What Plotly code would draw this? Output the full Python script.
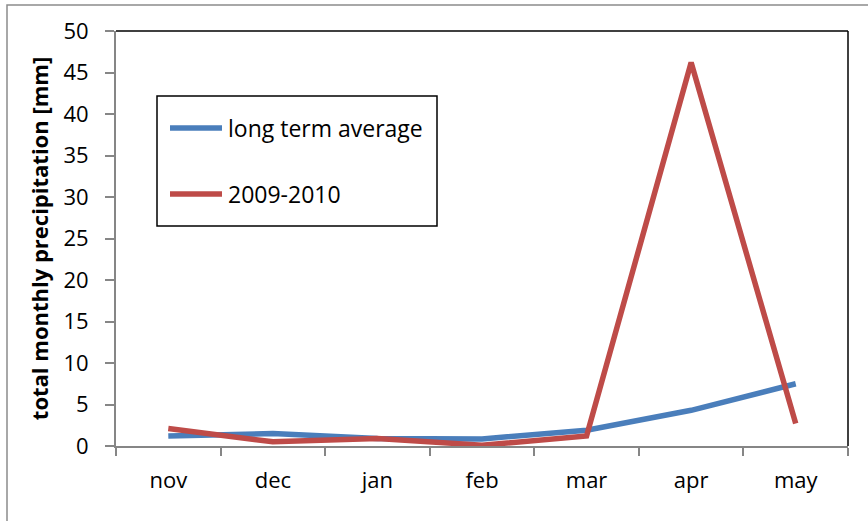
import plotly.graph_objects as go

months = ["nov", "dec", "jan", "feb", "mar", "apr", "may"]
long_term_average = [1.2, 1.5, 0.9, 0.85, 1.9, 4.3, 7.5]
season_2009_2010 = [2.1, 0.5, 0.9, 0.1, 1.2, 46.2, 2.7]
y_ticks = list(range(0, 51, 5))

BLUE = "#4A7EBB"
RED = "#BE4B48"
FONT = "'Open Sans', Lato, sans-serif"

fig = go.Figure()
fig.add_trace(go.Scatter(x=months, y=long_term_average, mode="lines",
                         name="long term average", showlegend=False,
                         line=dict(color=BLUE, width=5.5)))
fig.add_trace(go.Scatter(x=months, y=season_2009_2010, mode="lines",
                         name="2009-2010", showlegend=False,
                         line=dict(color=RED, width=5.5)))

W, H = 868, 521
L, R, T, B = 116, 20, 31, 75
pw, ph = W - L - R, H - T - B

def px(x):
    return (x - L) / pw

def py(y):
    return (H - B - y) / ph

shapes = []
# outer chart border
shapes.append(dict(type="rect", xref="paper", yref="paper",
                   x0=px(7), x1=px(872), y0=py(526), y1=py(5),
                   line=dict(color="#8C8C8C", width=1.5), layer="below"))
# plot area top/right border
shapes.append(dict(type="line", xref="paper", yref="paper", x0=0, x1=1, y0=1, y1=1,
                   line=dict(color="black", width=1.5)))
shapes.append(dict(type="line", xref="paper", yref="paper", x0=1, x1=1, y0=0, y1=1,
                   line=dict(color="black", width=1.5)))
# legend box
shapes.append(dict(type="rect", xref="paper", yref="paper",
                   x0=px(157), x1=px(437), y0=py(226), y1=py(96),
                   line=dict(color="black", width=1.5), fillcolor="white"))
annotations = []
for name, color, yy in [("long term average", BLUE, 128), ("2009-2010", RED, 194)]:
    shapes.append(dict(type="line", xref="paper", yref="paper",
                       x0=px(170), x1=px(222), y0=py(yy), y1=py(yy),
                       line=dict(color=color, width=5.5)))
    annotations.append(dict(text=name, xref="paper", yref="paper", x=px(226), y=py(yy),
                            xanchor="left", yanchor="middle", showarrow=False,
                            font=dict(family=FONT, size=23, color="black")))

fig.update_layout(
    width=W, height=H,
    margin=dict(l=L, r=R, t=T, b=B),
    paper_bgcolor="white", plot_bgcolor="white",
    font=dict(family=FONT, size=22, color="black"),
    shapes=shapes, annotations=annotations,
    xaxis=dict(type="category", categoryorder="array", categoryarray=months,
               range=[-0.5, 6.5], automargin=False,
               showgrid=False, zeroline=False, showline=True, linecolor="#868686",
               linewidth=2, ticks="outside", tickson="boundaries", ticklen=8,
               tickcolor="#868686", tickwidth=1.5, ticklabelstandoff=14,
               tickfont=dict(family=FONT, size=22)),
    yaxis=dict(range=[0, 50], tickvals=y_ticks, showgrid=False, zeroline=False,
               automargin=False,
               showline=True, linecolor="#868686", linewidth=2, ticks="outside",
               ticklen=9, tickcolor="#868686", tickwidth=1.5, ticklabelstandoff=12,
               tickfont=dict(family=FONT, size=22),
               title=dict(text="<b>total monthly precipitation [mm]</b>",
                          font=dict(family=FONT, size=22), standoff=9)),
)

fig.write_html("out.html", config={"displayModeBar": False},
               post_script="document.body.style.margin='0';")
